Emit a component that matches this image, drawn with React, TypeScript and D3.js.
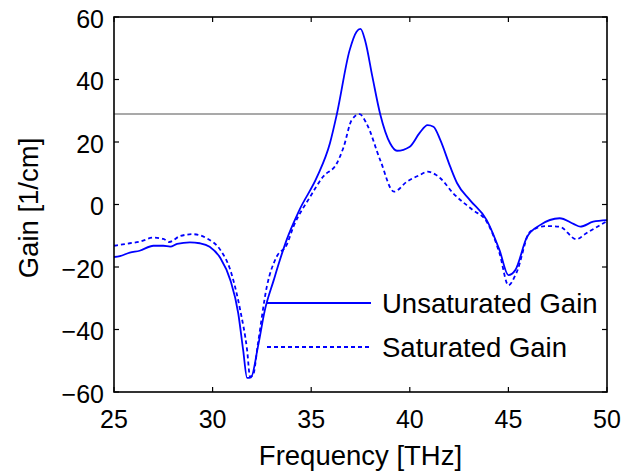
import * as d3 from "d3";

// frequency [THz] / gain [1/cm]
const unsatFreq = [25, 25.3, 25.8, 26.3, 27, 27.5, 27.85, 28.2, 28.85, 29.35, 29.85, 30.4, 30.9, 31.3, 31.55, 31.75, 31.95, 32.3, 32.65, 33.1, 33.4, 33.75, 34.4, 35.3, 35.95, 36.3, 36.95, 37.3, 37.5, 37.75, 38.1, 38.5, 39, 39.35, 40, 40.5, 40.9, 41.2, 41.55, 42.05, 42.4, 43.05, 43.9, 44.55, 45, 45.35, 45.95, 46.6, 47.6, 48.3, 48.65, 49.3, 50];
const unsatGain = [-16.8, -16.5, -15.4, -14.8, -13.2, -13.2, -13.5, -12.6, -12.1, -12.4, -13.5, -17.2, -24.2, -34.8, -46.6, -55.5, -55.3, -45.5, -33.8, -24.2, -18, -11.4, -1.8, 8.9, 19.6, 28.9, 49.4, 55.3, 56.2, 52.1, 41, 28.9, 19.6, 17.2, 18.5, 22.9, 25.4, 24.9, 20.6, 12.1, 6.8, 1.4, -5, -14.6, -22.6, -21, -10.3, -6.6, -4.4, -6.2, -7.1, -5.5, -5];

const satFreq = [25, 25.3, 25.8, 26.3, 27, 27.5, 27.8, 28.35, 29, 29.7, 30.4, 30.9, 31.4, 31.75, 31.9, 32.05, 32.3, 32.75, 33.25, 33.75, 34.1, 34.95, 35.6, 36.3, 36.65, 37.05, 37.45, 37.8, 38.5, 39.2, 39.85, 40.5, 40.9, 41.35, 41.55, 42.2, 43.2, 43.9, 44.55, 45, 45.4, 46.1, 46.9, 47.6, 48.45, 48.95, 50];
const satGain = [-13.2, -12.9, -12.4, -11.9, -10.6, -11, -12, -10.1, -9.5, -10.8, -14.6, -21, -33.8, -46.6, -55.1, -54.6, -44.5, -26.3, -16.7, -13, -7.1, 2.5, 8.9, 13.2, 18.5, 27, 28.9, 26, 14.2, 4.1, 7.3, 9.4, 10.5, 9.4, 8.4, 3.6, -1.8, -5.5, -15.6, -25.8, -22, -8.7, -6.9, -7.1, -11.1, -9.2, -5.3];

const threshold = 29;
const xTicks = [25, 30, 35, 40, 45, 50];
const yTicks = [-60, -40, -20, 0, 20, 40, 60];
const legendLabels = ["Unsaturated Gain", "Saturated Gain"];

const W = 638;
const H = 475;
const margin = {top: 17, right: 31, bottom: 83, left: 114};
const font = "Liberation Sans, Arial, Helvetica, sans-serif";
const tickFont = 25;
const labelFont = 27.5;

export default function App() {
    const x = d3.scaleLinear().domain([25, 50]).range([margin.left, W - margin.right]);
    const y = d3.scaleLinear().domain([-60, 60]).range([H - margin.bottom, margin.top]);
    const line = d3.line<[number, number]>()
        .x(d => x(d[0]))
        .y(d => y(d[1]))
        .curve(d3.curveMonotoneX);

    const unsat = unsatFreq.map((f, i) => [f, unsatGain[i]] as [number, number]);
    const sat = satFreq.map((f, i) => [f, satGain[i]] as [number, number]);

    const x0 = x(25), x1 = x(50), y0 = y(-60), y1 = y(60);
    const tick = 5;
    const fmt = (v: number) => (v < 0 ? "\u2212" + Math.abs(v) : String(v));

    const legX = 267, legLen = 104, legY = [303, 347];

    return (
        <svg width={W} height={H} style={{position: "absolute", left: 0, top: 0, background: "#fff"}} fontFamily={font}>
            <rect width={W} height={H} fill="#fff"/>
            <line x1={x0} x2={x1} y1={y(threshold)} y2={y(threshold)} stroke="#8c8c8c" strokeWidth={1.5}/>
            <path d={line(unsat) || ""} fill="none" stroke="#0000ff" strokeWidth={1.8}/>
            <path d={line(sat) || ""} fill="none" stroke="#0000ff" strokeWidth={1.8} strokeDasharray="4,3"/>

            {/* legend */}
            <line x1={legX} x2={legX + legLen} y1={legY[0]} y2={legY[0]} stroke="#0000ff" strokeWidth={1.8}/>
            <line x1={legX} x2={legX + legLen} y1={legY[1]} y2={legY[1]} stroke="#0000ff" strokeWidth={1.8} strokeDasharray="4,3"/>
            {legendLabels.map((t, i) => (
                <text key={t} x={382} y={legY[i]} dy="0.35em" fontSize={labelFont}>{t}</text>
            ))}

            {/* axes box */}
            <rect x={x0} y={y1} width={x1 - x0} height={y0 - y1} fill="none" stroke="#000" strokeWidth={1.6}/>
            {xTicks.map(t => (
                <g key={"x" + t}>
                    <line x1={x(t)} x2={x(t)} y1={y0} y2={y0 - tick} stroke="#000" strokeWidth={1.2}/>
                    <line x1={x(t)} x2={x(t)} y1={y1} y2={y1 + tick} stroke="#000" strokeWidth={1.2}/>
                    <text x={x(t)} y={y0 + 27} dy="0.35em" textAnchor="middle" fontSize={tickFont}>{t}</text>
                </g>
            ))}
            {yTicks.map(t => (
                <g key={"y" + t}>
                    <line x1={x0} x2={x0 + tick} y1={y(t)} y2={y(t)} stroke="#000" strokeWidth={1.2}/>
                    <line x1={x1} x2={x1 - tick} y1={y(t)} y2={y(t)} stroke="#000" strokeWidth={1.2}/>
                    <text x={x0 - 10} y={y(t) + 2} dy="0.35em" textAnchor="end" fontSize={tickFont}>{fmt(t)}</text>
                </g>
            ))}
            <text x={(x0 + x1) / 2} y={455} dy="0.35em" textAnchor="middle" fontSize={labelFont}>Frequency [THz]</text>
            <text transform={`translate(28,208) rotate(-90)`} dy="0.35em" textAnchor="middle" fontSize={labelFont}>Gain [1/cm]</text>
        </svg>
    );
}
